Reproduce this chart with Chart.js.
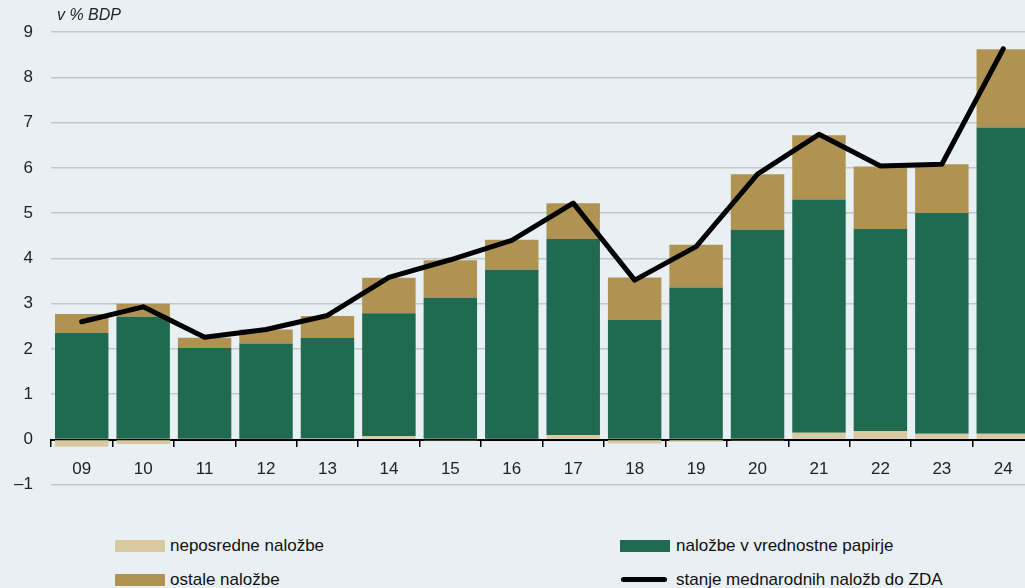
<!DOCTYPE html>
<html>
<head>
<meta charset="utf-8">
<script src="https://cdn.jsdelivr.net/npm/chart.js@4.4.1/dist/chart.umd.min.js"></script>
<style>
  html, body { margin: 0; padding: 0; background: #E9F0F4; overflow: hidden; }
  body { width: 1025px; height: 588px; position: relative; font-family: "Liberation Sans", Arial, sans-serif; }
  #chartBox { position: absolute; left: 0; top: 0; }
  #enota { position: absolute; left: 57px; top: 6px; font-size: 16px; font-style: italic; color: #222; }
  .leg { position: absolute; font-size: 17px; color: #111; white-space: nowrap; line-height: 20px; }
  .sw { position: absolute; width: 50px; height: 12px; }
  .ln { position: absolute; width: 46px; height: 5px; background: #000; border-radius: 3px; }
</style>
</head>
<body>
<div id="chartBox"><canvas id="myChart" width="1034" height="513"></canvas></div>
<div id="enota">v % BDP</div>

<div class="sw" style="left:115px; top:540px; background:#D9C9A0;"></div>
<div class="leg" style="left:170px; top:536px;">neposredne naložbe</div>
<div class="sw" style="left:620px; top:540px; background:#1F6A50;"></div>
<div class="leg" style="left:676px; top:536px;">naložbe v vrednostne papirje</div>
<div class="sw" style="left:115px; top:574px; background:#B09350;"></div>
<div class="leg" style="left:170px; top:570px;">ostale naložbe</div>
<div class="ln" style="left:621px; top:577px;"></div>
<div class="leg" style="left:676px; top:570px;">stanje mednarodnih naložb do ZDA</div>

<script>
const leta = ['09', '10', '11', '12', '13', '14', '15', '16', '17', '18', '19', '20', '21', '22', '23', '24'];
const neposredne = [-0.16, -0.10, 0.00, 0.01, 0.02, 0.08, -0.02, 0.01, 0.10, -0.09, -0.05, -0.01, 0.15, 0.19, 0.13, 0.13];
const vrednostni = [2.35, 2.71, 2.02, 2.11, 2.22, 2.71, 3.13, 3.74, 4.33, 2.64, 3.36, 4.63, 5.15, 4.46, 4.87, 6.76];
const ostale = [0.42, 0.29, 0.23, 0.31, 0.49, 0.78, 0.83, 0.66, 0.79, 0.94, 0.94, 1.23, 1.42, 1.38, 1.08, 1.73];
const stanje = [2.60, 2.93, 2.26, 2.43, 2.74, 3.58, 3.97, 4.40, 5.22, 3.52, 4.26, 5.86, 6.74, 6.04, 6.08, 8.63];

function narisiGraf() {
    const ctx = document.getElementById('myChart').getContext('2d');
    new Chart(ctx, {
        type: 'bar',
        data: {
            labels: leta,
            datasets: [
                {
                    type: 'line',
                    label: 'stanje mednarodnih naložb do ZDA',
                    data: stanje,
                    borderColor: '#000000',
                    borderWidth: 5,
                    borderCapStyle: 'round',
                    borderJoinStyle: 'round',
                    pointRadius: 0,
                    tension: 0,
                    stack: 'linija',
                    order: 0
                },
                {
                    label: 'neposredne naložbe',
                    data: neposredne,
                    backgroundColor: '#D9C9A0',
                    stack: 'naložbe',
                    order: 1
                },
                {
                    label: 'naložbe v vrednostne papirje',
                    data: vrednostni,
                    backgroundColor: '#1F6A50',
                    stack: 'naložbe',
                    order: 1
                },
                {
                    label: 'ostale naložbe',
                    data: ostale,
                    backgroundColor: '#B09350',
                    stack: 'naložbe',
                    order: 1
                }
            ]
        },
        options: {
            responsive: false,
            animation: false,
            barPercentage: 0.87,
            categoryPercentage: 1,
            layout: { padding: { top: 32, left: 0, right: 0, bottom: 0 } },
            plugins: {
                legend: { display: false },
                tooltip: { enabled: false }
            },
            scales: {
                x: {
                    stacked: true,
                    position: { y: 0 },
                    afterFit: function(scale) { scale.height = 50; },
                    grid: {
                        offset: true,
                        drawOnChartArea: false,
                        drawTicks: true,
                        tickLength: 6,
                        color: '#000000',
                        lineWidth: 1.5
                    },
                    border: { display: true, color: '#000000', width: 2 },
                    ticks: {
                        padding: 14,
                        color: '#222222',
                        font: { family: 'Liberation Sans', size: 17 }
                    }
                },
                y: {
                    stacked: true,
                    min: -1,
                    max: 9,
                    afterFit: function(scale) { scale.width = 51; },
                    grid: {
                        color: '#C3C6C8',
                        lineWidth: 1.5,
                        drawTicks: false
                    },
                    border: { display: false },
                    ticks: {
                        stepSize: 1,
                        padding: 18,
                        color: '#222222',
                        font: { family: 'Liberation Sans', size: 17 },
                        callback: function(v) { return v < 0 ? '\u2013' + Math.abs(v) : v; }
                    }
                }
            }
        }
    });
}

narisiGraf();
</script>
</body>
</html>
